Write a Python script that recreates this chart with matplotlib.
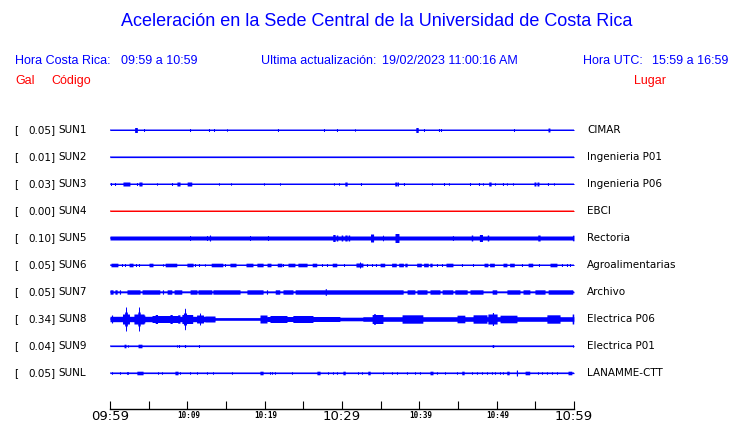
import numpy as np
import matplotlib
matplotlib.use("Agg")
import matplotlib.pyplot as plt
from matplotlib.transforms import blended_transform_factory

# ---------------- data ----------------
title = "Aceleración en la Sede Central de la Universidad de Costa Rica"
hora_cr = "09:59 a 10:59"
actualizacion = "19/02/2023 11:00:16 AM"
hora_utc = "15:59 a 16:59"

codes = ["SUN1", "SUN2", "SUN3", "SUN4", "SUN5", "SUN6", "SUN7", "SUN8", "SUN9", "SUNL"]
peaks = [0.05, 0.01, 0.03, 0.00, 0.10, 0.05, 0.05, 0.34, 0.04, 0.05]
places = ["CIMAR", "Ingenieria P01", "Ingenieria P06", "EBCI", "Rectoria",
          "Agroalimentarias", "Archivo", "Electrica P06", "Electrica P01", "LANAMME-CTT"]
trace_colors = ["#0000ff", "#0000ff", "#0000ff", "#ff0000", "#0000ff",
                "#0000ff", "#0000ff", "#0000ff", "#0000ff", "#0000ff"]

tick_minutes = [0, 5, 10, 15, 20, 25, 30, 35, 40, 45, 50, 55, 60]
label_minutes = [0, 10, 20, 30, 40, 50, 60]
label_texts = ["09:59", "10:09", "10:19", "10:29", "10:39", "10:49", "10:59"]
label_big = [True, False, False, True, False, False, True]

# background half-amplitude of each trace (relative units, ~pixels)
base_amp = [0.5, 0.6, 0.5, 0.5, 2.0, 0.5, 0.8, 1.3, 0.6, 0.6]

# events: (minute after 09:59, half-amplitude, duration in minutes)
SUN1_events = [(3.36, 2.5, 0.35), (4.40, 1.5, 0.1), (10.35, 1.5, 0.1), (12.80, 1.5, 0.1),
               (13.45, 1.5, 0.1), (15.13, 1.2, 0.1), (21.72, 1.5, 0.1), (27.67, 1.5, 0.1),
               (29.35, 1.5, 0.1), (31.68, 1.2, 0.1), (39.70, 2.5, 0.3), (40.60, 1.5, 0.1),
               (42.54, 1.5, 0.1), (42.80, 1.5, 0.1), (52.24, 1.5, 0.1), (56.76, 2.0, 0.25)]
SUN2_events = []
SUN3_events = [(0.13, 1.5, 0.1), (0.65, 1.5, 0.1), (2.13, 2.0, 0.9), (3.49, 1.5, 0.1),
               (3.94, 2.0, 0.4), (6.08, 1.2, 0.1), (8.02, 1.5, 0.1), (8.86, 2.0, 0.4),
               (10.28, 2.0, 0.6), (14.09, 1.2, 0.1), (15.65, 1.2, 0.1), (19.91, 1.2, 0.1),
               (21.98, 1.2, 0.1), (28.96, 1.2, 0.1), (29.61, 1.2, 0.1), (30.51, 2.0, 0.3),
               (32.45, 1.5, 0.1), (36.98, 2.0, 0.3), (37.24, 2.0, 0.1), (38.01, 1.5, 0.1),
               (41.63, 1.2, 0.1), (43.19, 1.5, 0.1), (43.83, 1.2, 0.1), (46.55, 1.5, 0.1),
               (47.71, 1.5, 0.1), (48.23, 1.2, 0.1), (49.13, 2.0, 0.3), (49.78, 1.2, 0.1),
               (50.81, 1.5, 0.1), (51.33, 1.2, 0.1), (52.11, 1.2, 0.1), (54.95, 2.0, 0.25),
               (55.34, 2.0, 0.25), (56.63, 1.5, 0.1), (57.41, 1.2, 0.1)]
SUN4_events = []
SUN5_events = [(10.35, 2.5, 0.1), (12.54, 2.5, 0.1), (12.93, 3.0, 0.15), (18.10, 2.5, 0.1),
               (20.43, 2.5, 0.1), (28.96, 3.5, 0.3), (29.35, 3.0, 0.2), (30.00, 3.0, 0.2),
               (30.51, 3.0, 0.3), (30.90, 3.0, 0.2), (33.88, 4.0, 0.4), (35.30, 2.8, 0.1),
               (37.11, 4.5, 0.5), (44.34, 2.5, 0.1), (46.81, 3.0, 0.2), (47.97, 3.5, 0.4),
               (48.88, 3.0, 0.2), (55.47, 3.0, 0.3), (59.90, 2.8, 0.2)]
SUN6_events = [(0.58, 1.8, 0.9), (1.55, 1.5, 0.1), (1.94, 1.5, 0.1), (2.72, 1.8, 0.5),
               (3.36, 1.5, 0.1), (3.75, 1.5, 0.1), (5.30, 1.8, 0.5), (6.85, 1.2, 0.1),
               (7.89, 1.8, 1.5), (10.35, 1.8, 0.8), (10.99, 1.5, 0.1), (11.51, 1.5, 0.1),
               (12.28, 1.2, 0.1), (13.84, 1.8, 1.5), (14.87, 1.5, 0.1), (15.90, 1.8, 0.8),
               (18.04, 1.8, 0.9), (19.40, 1.8, 0.8), (20.56, 1.8, 0.5), (21.92, 1.8, 0.6),
               (22.37, 1.5, 0.1), (23.47, 1.8, 0.9), (24.89, 1.8, 1.2), (26.44, 1.8, 0.6),
               (27.41, 1.5, 0.1), (28.06, 1.5, 0.1), (29.03, 1.8, 0.6), (30.26, 1.5, 0.1),
               (32.26, 2.0, 0.9), (32.33, 3.0, 0.1), (33.23, 1.5, 0.1), (33.88, 1.5, 0.1),
               (34.39, 1.5, 0.1), (35.23, 1.8, 0.6), (36.72, 1.8, 0.6), (37.63, 1.8, 0.6),
               (38.27, 1.8, 0.3), (39.95, 1.8, 0.6), (40.86, 1.8, 0.6), (41.51, 1.8, 0.3),
               (42.28, 1.5, 0.1), (42.93, 1.5, 0.1), (43.90, 1.8, 0.9), (45.51, 1.5, 0.1),
               (46.94, 1.5, 0.1), (48.62, 1.8, 0.5), (49.39, 1.8, 0.6), (51.07, 1.8, 0.5),
               (51.98, 1.8, 0.6), (53.27, 1.5, 0.1), (54.37, 1.8, 0.6), (55.47, 1.5, 0.1),
               (57.34, 1.8, 0.9), (58.44, 1.5, 0.1), (59.09, 1.5, 0.1), (59.48, 1.5, 0.1)]
SUN7_events = [(0.19, 2.2, 0.4), (0.78, 2.2, 0.3), (1.29, 2.2, 0.15), (3.04, 2.2, 1.7),
               (5.30, 2.2, 2.3), (6.85, 2.2, 0.15), (7.69, 2.2, 0.6), (8.79, 2.2, 1.0),
               (10.80, 2.2, 0.9), (12.28, 2.2, 1.8), (15.06, 2.2, 3.5), (18.75, 2.2, 2.1),
               (20.30, 2.2, 0.15), (21.66, 2.2, 0.6), (23.02, 2.2, 1.3), (27.48, 2.2, 7.1),
               (27.90, 3.5, 0.1), (34.46, 2.2, 6.9), (38.92, 2.2, 1.0), (40.34, 2.2, 1.3),
               (42.02, 2.2, 1.3), (43.64, 2.2, 1.4), (45.38, 2.2, 1.6), (47.39, 2.2, 1.7),
               (49.72, 2.2, 0.6), (52.17, 2.2, 1.7), (53.85, 2.2, 0.9), (55.60, 2.2, 1.3),
               (58.25, 2.2, 3.2)]
SUN8_events = [(6.79, 2.7, 13.58), (0.26, 4.0, 0.15),
               (2.07, 12.0, 0.13), (2.07, 7.0, 0.35), (2.07, 5.0, 0.9),
               (3.75, 12.0, 0.13), (3.75, 7.0, 0.3), (3.75, 5.0, 1.3), (4.40, 4.0, 0.2),
               (7.24, 3.5, 3.6), (6.00, 4.5, 0.3), (7.90, 4.5, 0.3), (8.90, 4.2, 0.3),
               (9.70, 10.7, 0.13), (9.70, 6.0, 0.4), (10.00, 4.5, 1.4),
               (11.64, 6.0, 0.13), (11.64, 4.0, 0.9), (12.93, 3.0, 1.3),
               (19.85, 4.0, 0.9), (25.02, 2.5, 9.4),
               (21.79, 3.5, 2.2), (24.95, 3.5, 2.6), (31.22, 1.8, 3.0), (46.35, 2.3, 27.3),
               (34.59, 4.5, 1.4), (34.20, 5.5, 0.2), (39.11, 4.2, 2.7), (45.38, 3.8, 1.0),
               (47.84, 4.2, 1.8), (49.46, 5.0, 1.2), (49.52, 6.5, 0.15), (51.53, 3.8, 2.2),
               (57.34, 4.2, 1.7), (59.87, 5.0, 0.2)]
SUN9_events = [(1.94, 1.8, 0.25), (2.33, 1.2, 0.1), (3.88, 1.8, 0.5), (8.66, 1.2, 0.1),
               (8.92, 1.5, 0.1), (9.70, 1.5, 0.15), (11.51, 1.5, 0.1), (49.52, 1.5, 0.2),
               (59.87, 1.2, 0.1)]
SUNL_events = [(0.26, 1.3, 0.1), (1.29, 1.3, 0.1), (2.20, 1.3, 0.1), (2.33, 1.3, 0.1),
               (3.88, 1.8, 0.8), (6.21, 1.3, 0.1), (6.72, 1.3, 0.1), (8.60, 1.8, 0.4),
               (9.05, 1.3, 0.1), (10.35, 1.3, 0.1), (11.25, 1.3, 0.1), (12.54, 1.3, 0.1),
               (13.32, 1.3, 0.1), (15.77, 1.3, 0.1), (19.59, 1.8, 0.4), (20.69, 1.3, 0.1),
               (20.95, 1.3, 0.1), (21.33, 1.3, 0.1), (23.53, 1.3, 0.1), (26.96, 1.8, 0.4),
               (28.19, 1.3, 0.1), (28.83, 1.3, 0.1), (29.35, 1.3, 0.1), (30.26, 1.8, 0.3),
               (32.07, 1.3, 0.1), (32.58, 1.3, 0.1), (33.49, 1.8, 0.3), (35.30, 1.3, 0.1),
               (36.46, 1.3, 0.1), (37.11, 1.3, 0.1), (38.40, 1.3, 0.1), (39.44, 1.3, 0.1),
               (40.08, 1.3, 0.1), (41.57, 1.8, 0.4), (42.28, 1.3, 0.1), (43.32, 1.3, 0.1),
               (44.87, 1.3, 0.1), (45.64, 1.8, 0.3), (46.81, 1.3, 0.1), (47.45, 1.3, 0.1),
               (48.10, 1.3, 0.1), (48.75, 1.3, 0.1), (49.39, 1.3, 0.1), (49.78, 1.3, 0.1),
               (50.43, 1.3, 0.1), (50.81, 1.3, 0.1), (51.46, 1.8, 0.3), (52.62, 3.0, 0.15),
               (53.98, 1.8, 0.6), (55.34, 1.3, 0.1), (55.86, 1.3, 0.1), (56.50, 1.3, 0.1),
               (57.15, 1.3, 0.1), (57.80, 1.3, 0.1), (59.48, 1.8, 0.5)]
all_events = [SUN1_events, SUN2_events, SUN3_events, SUN4_events, SUN5_events,
              SUN6_events, SUN7_events, SUN8_events, SUN9_events, SUNL_events]

# ---------------- figure ----------------
W, H = 740, 423
fig = plt.figure(figsize=(W / 100, H / 100), dpi=100)
fig.patch.set_facecolor("white")

def fx(x):
    return x / W

def fy(y):
    return 1 - y / H

row0, row_step = 130, 27
ax_top, ax_bot = 103, 409
ax = fig.add_axes([fx(110), fy(ax_bot), fx(574) - fx(110), (ax_bot - ax_top) / H])
ax.set_xlim(0, 60)
ax.set_ylim(-(ax_bot - row0) / row_step, -(ax_top - row0) / row_step)
for s in ["top", "left", "right"]:
    ax.spines[s].set_visible(False)
ax.spines["bottom"].set_linewidth(1.0)
ax.set_yticks([])
ax.set_xticks(tick_minutes)
ax.set_xticklabels([])
ax.tick_params(axis="x", direction="in", length=6.0, width=0.8, color="black")
ax.patch.set_alpha(0)

t = np.linspace(0, 60, 6001)
scale = 1.0 / row_step
for k, (events, b, col) in enumerate(zip(all_events, base_amp, trace_colors)):
    yc = -k
    env = np.full_like(t, b)
    for (c, a, w) in events:
        half = max(w / 2, 0.065)
        m = np.abs(t - c) <= half
        env[m] = np.maximum(env[m], a)
    ax.fill_between(t, yc - env * scale, yc + env * scale, color=col, lw=0)
    ax.plot(t, np.full_like(t, yc), color=col, lw=0.7, solid_capstyle="butt")

# time labels
btr = blended_transform_factory(ax.transData, fig.transFigure)
for m, txt, big in zip(label_minutes, label_texts, label_big):
    if big:
        ax.text(m, fy(416), txt, transform=btr, ha="center", va="center",
                fontsize=9.5, family="DejaVu Sans", color="black", clip_on=False)
    else:
        ax.text(m + 0.2, fy(415), txt, transform=btr, ha="center", va="center",
                fontsize=5.5, family="DejaVu Sans Mono", fontweight="bold",
                color="black", clip_on=False)

# headers
blue = "#0000ff"
red = "#ff0000"
hf = "Liberation Sans"
fig.text(fx(377), fy(22), title, ha="center", va="center", fontsize=13,
         family=hf, color=blue)
fig.text(fx(15), fy(61), "Hora Costa Rica:", ha="left", va="center", fontsize=9,
         family=hf, color=blue)
fig.text(fx(121), fy(61), hora_cr, ha="left", va="center", fontsize=9,
         family=hf, color=blue)
fig.text(fx(261), fy(61), "Ultima actualización:", ha="left", va="center", fontsize=9,
         family=hf, color=blue)
fig.text(fx(382), fy(61), actualizacion, ha="left", va="center", fontsize=9,
         family=hf, color=blue)
fig.text(fx(583), fy(61), "Hora UTC:", ha="left", va="center", fontsize=9,
         family=hf, color=blue)
fig.text(fx(728), fy(61), hora_utc, ha="right", va="center", fontsize=9,
         family=hf, color=blue)
fig.text(fx(15), fy(81), "Gal", ha="left", va="center", fontsize=9,
         family=hf, color=red)
fig.text(fx(51), fy(81), "Código", ha="left", va="center", fontsize=9,
         family=hf, color=red)
fig.text(fx(666), fy(81), "Lugar", ha="right", va="center", fontsize=9,
         family=hf, color=red)

# station labels
for k, (code, pk, place) in enumerate(zip(codes, peaks, places)):
    ypx = row0 + k * row_step
    fig.text(fx(14), fy(ypx), "[", ha="left", va="center", fontsize=7.5,
             family="DejaVu Sans", color="black")
    fig.text(fx(55.5), fy(ypx), f"{pk:.2f}]", ha="right", va="center", fontsize=7.5,
             family="DejaVu Sans", color="black")
    fig.text(fx(58.5), fy(ypx), code, ha="left", va="center", fontsize=7.5,
             family="DejaVu Sans", color="black")
    fig.text(fx(587), fy(ypx), place, ha="left", va="center", fontsize=7.5,
             family="DejaVu Sans", color="black")

fig.savefig("out.png", dpi=100, facecolor="white")
